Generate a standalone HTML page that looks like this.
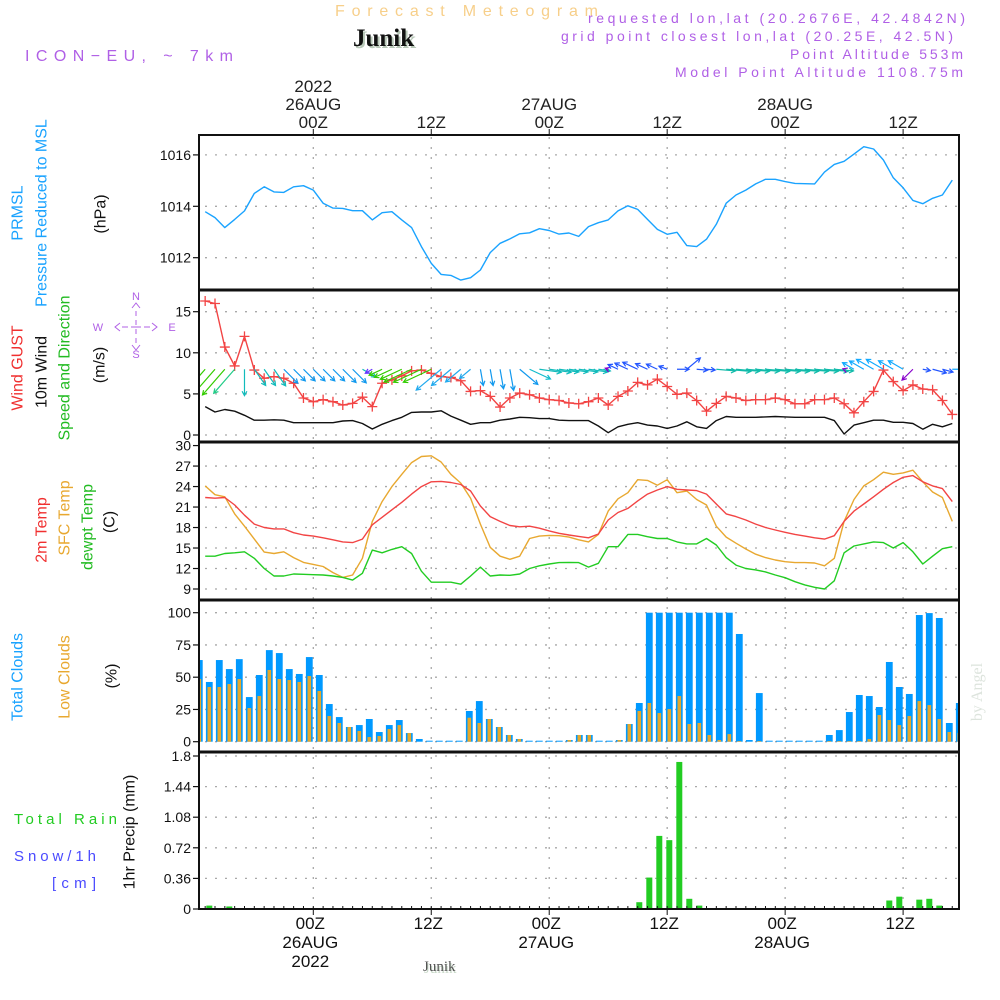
<!DOCTYPE html>
<html><head><meta charset="utf-8"><style>
html,body{margin:0;padding:0;background:#fff;}
svg{display:block;font-family:"Liberation Sans",sans-serif;}
</style></head><body>
<svg id="chart" width="1000" height="1000" viewBox="0 0 1000 1000" xmlns="http://www.w3.org/2000/svg">
<defs><clipPath id="plotclip"><rect x="199" y="135" width="760" height="775"/></clipPath></defs>
<rect x="0" y="0" width="1000" height="1000" fill="#fff"/>
<!-- header -->
<text x="335" y="16" font-size="16" fill="#f7cf8a" textLength="263" lengthAdjust="spacing">Forecast Meteogram</text>
<text x="355" y="48" font-size="25" font-weight="bold" font-family="Liberation Serif,serif" fill="#b8c8b8">Junik</text>
<text x="353" y="46" font-size="25" font-weight="bold" font-family="Liberation Serif,serif" fill="#111">Junik</text>
<text x="25" y="61" font-size="16" fill="#b060e6" textLength="208" lengthAdjust="spacing">ICON−EU, ~ 7km</text>
<text x="588" y="23" font-size="14" fill="#b060e6" textLength="377" lengthAdjust="spacing">requested lon,lat (20.2676E, 42.4842N)</text>
<text x="561" y="41" font-size="14" fill="#b060e6" textLength="392" lengthAdjust="spacing">grid point closest lon,lat (20.25E, 42.5N)</text>
<text x="790" y="59" font-size="14" fill="#b060e6" textLength="173" lengthAdjust="spacing">Point Altitude 553m</text>
<text x="675" y="77" font-size="14" fill="#b060e6" textLength="288" lengthAdjust="spacing">Model Point Altitude 1108.75m</text>

<!-- left labels -->
<g font-size="16" text-anchor="middle">
<text transform="translate(18,213) rotate(-90)" dominant-baseline="central" fill="#1aa3ff">PRMSL</text>
<text transform="translate(42,213) rotate(-90)" dominant-baseline="central" fill="#1aa3ff">Pressure Reduced to MSL</text>
<text transform="translate(101,214) rotate(-90)" dominant-baseline="central" fill="#111">(hPa)</text>
<text transform="translate(18,368) rotate(-90)" dominant-baseline="central" fill="#f03030">Wind GUST</text>
<text transform="translate(42,372) rotate(-90)" dominant-baseline="central" fill="#111">10m Wind</text>
<text transform="translate(65,368) rotate(-90)" dominant-baseline="central" fill="#22bb22">Speed and Direction</text>
<text transform="translate(100,365) rotate(-90)" dominant-baseline="central" fill="#111">(m/s)</text>
<text transform="translate(42,530) rotate(-90)" dominant-baseline="central" fill="#f03030">2m Temp</text>
<text transform="translate(65,518) rotate(-90)" dominant-baseline="central" fill="#e8a830">SFC Temp</text>
<text transform="translate(88,527) rotate(-90)" dominant-baseline="central" fill="#22bb22">dewpt Temp</text>
<text transform="translate(110,522) rotate(-90)" dominant-baseline="central" fill="#111">(C)</text>
<text transform="translate(18,677) rotate(-90)" dominant-baseline="central" fill="#1aa3ff">Total Clouds</text>
<text transform="translate(65,677) rotate(-90)" dominant-baseline="central" fill="#e8a830">Low Clouds</text>
<text transform="translate(112,676) rotate(-90)" dominant-baseline="central" fill="#111">(%)</text>
<text transform="translate(130,832) rotate(-90)" dominant-baseline="central" fill="#111">1hr Precip (mm)</text>
</g>
<text x="14" y="824" font-size="15" fill="#22cc22" textLength="103" lengthAdjust="spacing">Total  Rain</text>
<text x="14" y="861" font-size="15" fill="#4a4aff" textLength="82" lengthAdjust="spacing">Snow/1h</text>
<text x="52" y="888" font-size="15" fill="#4a4aff" textLength="44" lengthAdjust="spacing">[cm]</text>
<!-- compass -->
<g fill="#b060e6" stroke="#b060e6" font-size="11" text-anchor="middle">
<text x="136" y="300" stroke="none">N</text>
<text x="136" y="358" stroke="none">S</text>
<text x="98" y="331" stroke="none">W</text>
<text x="172" y="331" stroke="none">E</text>
<path d="M132 308 L136 303 L140 308 M136 311 V316 M136 320 V325 M136 329 V334 M136 338 V343 M132 345 L136 350 L140 345 M120 323 L115 327 L120 331 M122 327 H128 M131 327 H141 M144 327 H150 M152 323 L157 327 L152 331" fill="none" stroke-width="1"/>
</g>
<text transform="translate(982,692) rotate(-90)" text-anchor="middle" font-size="16" font-family="Liberation Serif,serif" fill="#dde4dd">by Angel</text>
<text x="424" y="973" font-size="15" font-family="Liberation Serif,serif" fill="#c8d8c8">Junik</text>
<text x="423" y="971" font-size="15" font-family="Liberation Serif,serif" fill="#555">Junik</text>

<g id="grid"></g>
<g id="plot" clip-path="url(#plotclip)"></g>
<g id="axes"></g>
</svg>
<script>
// hours relative to 26AUG 00Z, h = -11 .. 65
const hours = [];
for (let h = -11; h <= 65; h++) hours.push(h);
const pressure = [1013.79,1013.56,1013.17,1013.49,1013.82,1014.5,1014.76,1014.56,1014.54,1014.76,1014.8,1014.63,1014.12,1013.93,1013.92,1013.83,1013.83,1013.47,1013.75,1013.79,1013.47,1013.17,1012.43,1011.78,1011.35,1011.31,1011.13,1011.22,1011.52,1012.2,1012.56,1012.73,1012.93,1012.97,1013.13,1013.06,1012.92,1012.96,1012.83,
1013.21,1013.36,1013.47,1013.82,1014.02,1013.88,1013.49,1013.1,1012.91,1012.99,1012.47,1012.43,1012.72,1013.3,1014.12,1014.44,1014.63,1014.87,1015.05,1015.05,1014.96,1014.89,1014.88,1014.87,1015.33,1015.63,1015.75,1016.03,1016.32,1016.23,1015.8,1015.11,1014.72,1014.23,1014.1,1014.31,1014.44,1015.02];
const gust = [16.3,16.0,10.7,8.4,12.0,7.9,6.9,7.1,6.9,6.3,4.5,4.05,4.3,4.05,3.65,3.85,4.6,3.45,6.3,6.7,7.2,7.8,7.9,7.5,7.1,7.0,6.6,5.3,5.4,4.7,3.4,4.5,5.1,4.9,4.5,4.3,4.2,3.9,3.8,
4.05,4.5,3.65,4.7,5.35,6.4,6.1,6.8,5.9,4.95,5.1,4.2,2.9,3.85,4.7,4.5,4.2,4.3,4.3,4.5,4.3,3.8,3.8,4.3,4.3,4.5,3.8,2.7,4.05,5.3,7.9,6.5,5.4,6.1,5.6,5.5,4.2,2.5];
const windSpeed = [3.45,2.8,3.1,2.9,2.4,1.8,1.8,1.85,1.8,1.5,1.5,1.5,1.5,1.5,1.7,1.75,1.4,0.73,1.3,1.75,2.15,2.75,2.8,2.8,2.95,2.3,1.8,1.3,1.5,1.5,1.8,1.95,2.15,2.1,2.0,2.0,1.8,1.75,1.75,
1.75,1.1,0.28,1.0,1.3,1.5,1.2,1.1,0.8,1.1,1.6,1.0,0.8,1.75,2.25,2.15,2.15,2.15,2.2,2.25,2.2,2.15,2.15,2.15,2.15,1.75,0.12,1.2,1.5,1.8,1.8,1.55,1.55,1.4,0.7,1.3,1.0,1.4];
// arrow direction on screen (deg, 0 = east, 90 = down)
const windDir = [131,131,131,131,90,55,55,55,45,45,45,45,45,45,45,45,30,150,155,155,155,155,155,155,140,140,140,140,80,80,80,80,40,25,8,8,8,8,8,8,8,200,205,205,205,205,205,200,0,-40,5,5,5,5,5,5,5,5,5,5,5,5,5,5,5,200,210,210,210,210,210,210,135,10,15,15,0];
const windColor = ["#33cc00","#33cc00","#33cc00","#22cc88","#11bbbb","#11bbbb","#11bbbb","#11bbbb","#1199ee","#1199ee","#1199ee","#1199ee","#1199ee","#1199ee","#1199ee","#1199ee","#11bbbb","#6633ff","#33cc00","#33cc00","#33cc00","#33cc00","#33cc00","#33cc00","#22aaee","#22aaee","#22aaee","#22aaee","#1199ee","#1199ee","#1199ee","#1199ee","#1199ee","#11bbcc","#11bbbb","#11bbbb","#11bbbb","#11bbbb","#11bbbb","#11bbbb","#11bbbb","#8800cc","#2255ff","#2255ff","#2255ff","#2255ff","#2255ff","#2255ff","#2255ff","#2255ff","#2255ff","#2255ff","#11bbaa","#11bbaa","#11bbaa","#11bbaa","#11bbaa","#11bbaa","#11bbaa","#11bbaa","#11bbaa","#11bbaa","#11bbaa","#11bbaa","#11bbaa","#8800cc","#11aaff","#11aaff","#11aaff","#11aaff","#11aaff","#11aaff","#8800cc","#2255ff","#2255ff","#2255ff","#11aaff"];
const temp2m = [22.4,22.3,22.4,21.3,19.8,18.5,18.0,17.8,17.8,17.25,16.9,16.75,16.5,16.2,15.9,15.8,16.3,18.4,19.5,20.6,21.7,22.9,24.0,24.7,24.75,24.6,24.3,23.35,21.15,19.6,18.9,18.3,18.1,18.2,17.9,17.5,17.15,16.9,16.7,
16.5,17.05,19.1,20.2,20.8,21.9,22.9,23.5,24.0,23.6,23.5,23.4,22.9,21.45,20.0,19.6,19.1,18.5,18.0,17.64,17.3,17.0,16.75,16.5,16.3,16.8,18.9,20.4,21.45,22.5,23.6,24.6,25.35,25.6,24.7,24.1,23.7,21.8];
const sfcTemp = [24.1,22.8,22.5,20.0,18.2,16.3,14.4,14.2,14.45,13.6,12.9,12.6,12.3,11.4,10.7,11.05,13.5,18.9,21.8,24.0,25.8,27.5,28.4,28.5,27.6,25.8,24.5,22.3,18.5,15.1,13.8,13.35,13.8,16.4,16.75,16.85,16.8,16.6,16.2,
15.9,17.0,20.4,22.2,23.1,25.0,24.9,24.2,25.0,23.1,23.35,22.1,21.3,18.2,16.6,15.7,14.86,14.1,13.6,13.25,13.0,12.86,12.86,12.8,12.4,13.5,18.9,22.1,24.1,25.0,26.1,25.8,26.0,26.4,24.7,23.2,22.4,18.9];
const dewTemp = [13.8,13.8,14.2,14.3,14.45,13.5,12.0,10.9,10.9,11.2,11.15,11.1,11.05,10.9,10.7,10.3,11.3,14.7,14.3,14.8,15.2,14.2,11.6,10.0,10.0,10.0,9.7,10.9,12.2,10.9,11.05,11.0,11.2,12.0,12.4,12.66,12.86,12.9,12.86,
12.2,12.76,15.2,15.2,17.0,17.0,16.66,16.4,16.4,15.9,15.6,15.6,16.4,15.44,13.6,12.5,12.0,11.8,11.5,11.05,10.66,10.07,9.6,9.25,9.0,10.2,14.3,15.3,15.6,15.9,15.8,15.0,15.8,14.45,12.66,13.8,14.9,15.2];
const totalClouds = [63.3,46.3,63.3,56.3,64,34.6,51.7,71,68.7,56.3,
52.5,65.6,51.7,29.2,19.1,11.4,12.9,17.6,7.5,12.9,
16.8,6.7,2.1,0,0,0,0,23.8,31.5,17.6,
11.4,5.2,2.1,0,0,0,0,1.3,5.2,5.2,
0,0,1.3,13.7,30,100,100,100,100,100,
100,100,100,100,83.5,1.3,37.7,0,0,0,
0,0,0,5.2,9,23,36.2,35.4,26.9,61.8,
42.4,37,98.2,99.7,95.9,14.5,30];
const lowClouds = [48.6,42.4,42.4,44.7,48.6,26.1,35.4,55.6,48.6,47.8,
46.3,50.9,39.3,19.9,14.5,11.4,8.3,3.6,4.4,9.8,
12.9,6.7,0,0,0,0,0,18.6,14.5,17.6,
11.4,5.2,2.1,0,0,0,0,1.3,5.2,5.2,
0,0,1.3,13.7,23.8,30,22.2,25.3,35.4,13.7,
14.5,5.2,1.3,5.9,0.5,0,0.5,0,0,0,
0,0,0,0.5,0.5,0.5,0.5,2.1,20.7,16.8,
12.9,19.9,31.5,28.4,17.6,7.5,6.7];
const precip = [0,0.04,0,0.03,0,0,0,0,0,0,
0,0,0,0,0,0,0,0,0,0,
0,0,0,0,0,0,0,0,0,0,
0,0,0,0,0,0,0,0,0,0,
0,0,0,0,0.08,0.37,0.86,0.81,1.73,0.12,
0.04,0,0,0,0,0,0,0,0,0,
0,0,0,0,0,0,0,0,0,0.1,
0.145,0,0.11,0.12,0.04,0,0];
const timeTicks = [0,12,24,36,48,60];
const topLabels = [["2022","26AUG","00Z"],["","","12Z"],["","27AUG","00Z"],["","","12Z"],["","28AUG","00Z"],["","","12Z"]];
const bottomLabels = [["00Z","26AUG","2022"],["12Z","",""],["00Z","27AUG",""],["12Z","",""],["00Z","28AUG",""],["12Z","",""]];
const pTicks = [1012,1014,1016];
const wTicks = [0,5,10,15];
const tTicks = [9,12,15,18,21,24,27,30];
const cTicks = [0,25,50,75,100];
const rTicks = [0,0.36,0.72,1.08,1.44,1.8];
const rTickLabels = ["0","0.36","0.72","1.08","1.44","1.8"];

const NS = "http://www.w3.org/2000/svg";
const xT = h => 313.3 + h * 9.83;
const xB = h => 309.3 + 10 * h;
const yP = p => 257.7 - (p - 1012) * 25.7;
const yW = v => 435 - v * 8.22;
const yT = t => 589 - (t - 9) * 6.83;
const yC = c => 741.7 - c * 1.29;
const yR = r => 909 - r * 85;
const L = 199, R = 959;
const plot = document.getElementById('plot'), grid = document.getElementById('grid'), axes = document.getElementById('axes');
function mk(tag, attrs, parent) {
  const e = document.createElementNS(NS, tag);
  for (const k in attrs) e.setAttribute(k, attrs[k]);
  parent.appendChild(e);
  return e;
}
const gridStyle = {stroke: "#a8a8a8", "stroke-width": 1.3, "stroke-dasharray": "2,8"};
timeTicks.forEach(h => {
  const l = mk('line', Object.assign({x1: xT(h), x2: xT(h), y1: 137, y2: 908}, gridStyle), grid);
  
  
});
function hgrid(ticks, fy, name) {
  ticks.forEach(v => {
    const l = mk('line', Object.assign({x1: L + 6, x2: R, y1: fy(v), y2: fy(v)}, gridStyle), grid);
    
    
  });
}
hgrid(pTicks, yP, 'pressure-gridline');
hgrid(wTicks, yW, 'wind-gridline');
hgrid(tTicks.slice(0, 7), yT, 'temp-gridline');
hgrid(cTicks, yC, 'cloud-gridline');
hgrid(rTicks.slice(1), yR, 'precip-gridline');

function line(vals, fy, color, name) {
  const pts = vals.map((v, i) => xT(hours[i]).toFixed(1) + ',' + fy(v).toFixed(1)).join(' ');
  const pl = mk('polyline', {points: pts, fill: 'none', stroke: color, 'stroke-width': 1.4, 'stroke-linejoin': 'round'}, plot);
  
  
}
line(pressure, yP, '#1aa3ff', 'pressure-line');
line(windSpeed, yW, '#111', 'wind-speed-line');
line(gust, yW, '#f24444', 'wind-gust-line');
gust.forEach((v, i) => {
  const x = xT(hours[i]), y = yW(v);
  const m = mk('path', {d: `M${x-5} ${y}H${x+5}M${x} ${y-5}V${y+5}`, stroke: '#f24444', 'stroke-width': 1.3, fill: 'none'}, plot);
  
  
});
windSpeed.forEach((s, i) => {
  const x0 = xT(hours[i]), y0 = yW(8);
  const a = windDir[i] * Math.PI / 180, len = s * 11;
  const x1 = x0 + Math.cos(a) * len, y1 = y0 + Math.sin(a) * len;
  const hl = 5, b1 = a + Math.PI - 0.5, b2 = a + Math.PI + 0.5;
  const d = `M${x0} ${y0}L${x1} ${y1}M${x1 + Math.cos(b1) * hl} ${y1 + Math.sin(b1) * hl}L${x1} ${y1}L${x1 + Math.cos(b2) * hl} ${y1 + Math.sin(b2) * hl}`;
  const p = mk('path', {d: d, stroke: windColor[i], 'stroke-width': 1.2, fill: 'none'}, plot);
  
  
});
line(sfcTemp, yT, '#e8a830', 'sfc-temp-line');
line(temp2m, yT, '#f24444', 'temp-2m-line');
line(dewTemp, yT, '#22cc22', 'dewpt-temp-line');
totalClouds.forEach((c, i) => {
  const x = xB(hours[i]), hgt = Math.max(c * 1.29, 1);
  const r = mk('rect', {x: x - 3.4, y: yC(0) - hgt, width: 6.8, height: hgt, fill: '#0099ff'}, plot);
  
  
});
lowClouds.forEach((c, i) => {
  if (c <= 0) return;
  const x = xB(hours[i]), hgt = c * 1.29;
  const r = mk('rect', {x: x - 1.8, y: yC(0) - hgt, width: 3.6, height: hgt, fill: '#e5a82b'}, plot);
  
  
});
precip.forEach((v, i) => {
  if (v <= 0) return;
  const x = xB(hours[i]), hgt = v * 85;
  const r = mk('rect', {x: x - 3, y: yR(0) - hgt, width: 6, height: hgt, fill: '#22cc22'}, plot);
  
  
});

const frame = mk('rect', {x: L, y: 135, width: R - L, height: 774, fill: 'none', stroke: '#111', 'stroke-width': 2}, axes);


[290, 442, 600, 752].forEach(y => {
  const s = mk('line', {x1: L, x2: R, y1: y, y2: y, stroke: '#111', 'stroke-width': 3}, axes);
  
  
});
for (let h = -11; h <= 65; h++) {
  const t = mk('line', {x1: xT(h), x2: xT(h), y1: 906, y2: 910, stroke: '#111', 'stroke-width': 1}, axes);
  
  
}
function yAxis(ticks, labels, fy, name) {
  ticks.forEach((v, i) => {
    const y = fy(v);
    const t = mk('line', {x1: L - 6, x2: L, y1: y, y2: y, stroke: '#111', 'stroke-width': 1.2}, axes);
    
    
    const tx = mk('text', {x: L - 8, y: y + 5, 'font-size': 14, 'text-anchor': 'end', fill: '#111'}, axes);
    tx.textContent = labels[i];
    
    
  });
}
yAxis(pTicks, pTicks.map(String), yP, 'pressure-axis');
yAxis(wTicks, wTicks.map(String), yW, 'wind-axis');
yAxis(tTicks, tTicks.map(String), yT, 'temp-axis');
yAxis(cTicks, cTicks.map(String), yC, 'cloud-axis');
yAxis(rTicks, rTickLabels, yR, 'precip-axis');
timeTicks.forEach((h, i) => {
  const x = xT(h);
  const t = mk('line', {x1: x, x2: x, y1: 129, y2: 135, stroke: '#111', 'stroke-width': 1}, axes);
  
  
  const tb = mk('line', {x1: x, x2: x, y1: 909, y2: 915, stroke: '#111', 'stroke-width': 1}, axes);
  
  
  [92, 110, 128].forEach((y, k) => {
    if (!topLabels[i][k]) return;
    const tx = mk('text', {x: x, y: y, 'font-size': 17, 'text-anchor': 'middle', fill: '#222'}, axes);
    tx.textContent = topLabels[i][k];
    
    
  });
  [929, 948, 967].forEach((y, k) => {
    if (!bottomLabels[i][k]) return;
    const tx = mk('text', {x: x - 3, y: y, 'font-size': 17, 'text-anchor': 'middle', fill: '#111'}, axes);
    tx.textContent = bottomLabels[i][k];
    
    
  });
});
</script>
</body></html>
